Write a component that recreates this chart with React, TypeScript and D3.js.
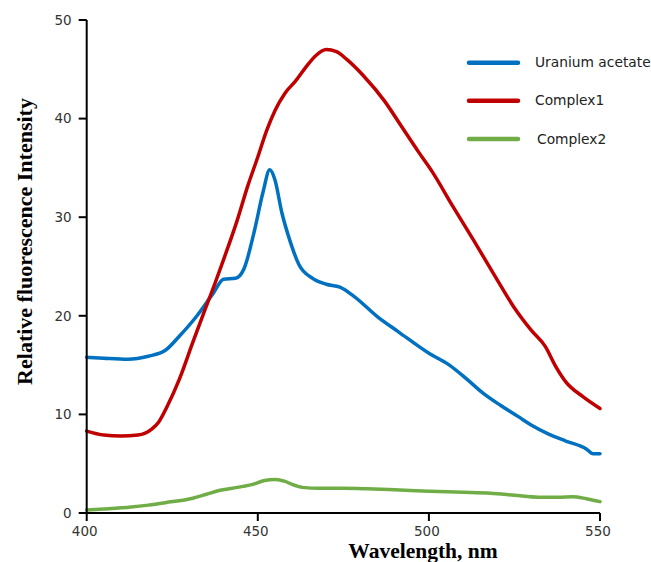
import * as d3 from "d3";

// values (wavelength nm, intensity)
const uraniumWl = [400, 405, 412, 418, 423, 427, 432, 437, 440, 443.5, 446, 449, 451.5, 453.5, 455, 457, 459.5, 462, 466, 470, 474, 478, 485, 491, 500, 506, 511, 516, 521, 526, 530, 535, 540, 546, 548, 550];
const uraniumVals = [15.8, 15.7, 15.6, 15.9, 16.5, 17.9, 19.9, 22.3, 23.7, 23.8, 24.8, 28.6, 32.5, 34.8, 33.8, 30.5, 27.5, 25.2, 23.8, 23.2, 22.9, 22.0, 19.9, 18.4, 16.2, 15.0, 13.6, 12.1, 10.9, 9.8, 8.9, 8.0, 7.3, 6.5, 6.0, 6.0];

const complex1Wl = [400, 405, 410, 415, 419, 421, 423.5, 427, 431, 434, 437.5, 440, 444, 447, 450, 452.5, 455, 458, 461, 464, 467, 470, 473, 476, 481, 487, 492, 497, 501, 507, 513, 519, 525, 530, 534, 537, 540, 545, 550];
const complex1Vals = [8.3, 7.9, 7.8, 7.9, 8.5, 9.2, 10.8, 13.5, 17.3, 20.1, 23.3, 25.7, 29.7, 33.1, 36.1, 38.7, 40.8, 42.6, 43.8, 45.2, 46.4, 47.0, 46.8, 46.0, 44.3, 41.8, 39.2, 36.6, 34.6, 31.1, 27.7, 24.2, 20.8, 18.5, 16.9, 14.9, 13.3, 11.8, 10.6];

const complex2Wl = [400, 405, 413, 418, 423, 431, 435, 439, 444, 448.5, 452, 455, 458, 460, 463, 468, 475, 482, 490, 500, 510, 518, 525, 532, 538, 542, 546, 550];
const complex2Vals = [0.3, 0.4, 0.6, 0.8, 1.05, 1.5, 1.9, 2.3, 2.6, 2.9, 3.3, 3.4, 3.2, 2.9, 2.6, 2.5, 2.5, 2.45, 2.35, 2.2, 2.1, 2.0, 1.8, 1.6, 1.6, 1.65, 1.45, 1.15];

const seriesNames = ["Uranium acetate", "Complex1", "Complex2"];
const seriesColors = ["#0070C0", "#C00000", "#70AD47"];

const xTicks = [400, 450, 500, 550];
const yTicks = [0, 10, 20, 30, 40, 50];

const width = 651;
const height = 562;

export default function App() {
  const x = d3.scaleLinear().domain([400, 550]).range([86.7, 600]);
  const y = d3.scaleLinear().domain([0, 50]).range([513, 20]);

  const series = [
    { wl: uraniumWl, vals: uraniumVals },
    { wl: complex1Wl, vals: complex1Vals },
    { wl: complex2Wl, vals: complex2Vals },
  ];

  const line = d3
    .line<[number, number]>()
    .x((d) => x(d[0]))
    .y((d) => y(d[1]))
    .curve(d3.curveMonotoneX);

  const tickFont = "'DejaVu Sans', sans-serif";
  const titleFont = "'Liberation Serif', 'Times New Roman', serif";

  return (
    <svg
      width={width}
      height={height}
      style={{ position: "absolute", left: 0, top: 0, background: "#fff" }}
    >
      {/* curves */}
      {series.map((s, i) => (
        <path
          key={i}
          d={line(s.wl.map((w, j) => [w, s.vals[j]]))!}
          fill="none"
          stroke={seriesColors[i]}
          strokeWidth={3.5}
          strokeLinejoin="round"
          strokeLinecap="round"
        />
      ))}

      {/* y axis */}
      <line x1={x(400)} x2={x(400)} y1={y(50)} y2={y(0)} stroke="#000" strokeWidth={2} />
      {yTicks.map((t) => (
        <g key={t}>
          <line x1={x(400) - 8} x2={x(400)} y1={y(t)} y2={y(t)} stroke="#000" strokeWidth={2} />
          <text
            x={x(400) - 15}
            y={y(t)}
            dy="0.35em"
            textAnchor="end"
            fontFamily={tickFont}
            fontSize={13.5}
            fill="#333"
          >
            {t}
          </text>
        </g>
      ))}

      {/* x axis */}
      <line x1={x(400) - 1} x2={x(550)} y1={y(0)} y2={y(0)} stroke="#000" strokeWidth={2} />
      {xTicks.map((t) => (
        <g key={t}>
          <line x1={x(t)} x2={x(t)} y1={y(0)} y2={y(0) + 8} stroke="#000" strokeWidth={2} />
          <text
            x={x(t) - 2}
            y={535.5}
            textAnchor="middle"
            fontFamily={tickFont}
            fontSize={13.5}
            fill="#333"
          >
            {t}
          </text>
        </g>
      ))}

      {/* axis titles */}
      <text
        x={423}
        y={557.5}
        textAnchor="middle"
        fontFamily={titleFont}
        fontWeight="bold"
        fontSize={21.5}
        fill="#000"
      >
        Wavelength, nm
      </text>
      <text
        transform={`translate(32, 241.5) rotate(-90)`}
        textAnchor="middle"
        fontFamily={titleFont}
        fontWeight="bold"
        fontSize={22}
        fill="#000"
      >
        Relative fluorescence Intensity
      </text>

      {/* legend */}
      {seriesNames.map((name, i) => {
        const ly = [62.7, 100.7, 139][i];
        return (
          <g key={name}>
            <line
              x1={469}
              x2={518}
              y1={ly}
              y2={ly}
              stroke={seriesColors[i]}
              strokeWidth={4.5}
              strokeLinecap="round"
            />
            <text
              x={i === 2 ? 537 : 535}
              y={ly}
              dy="0.33em"
              fontFamily={tickFont}
              fontSize={13.8}
              fill="#222"
            >
              {name}
            </text>
          </g>
        );
      })}
    </svg>
  );
}
